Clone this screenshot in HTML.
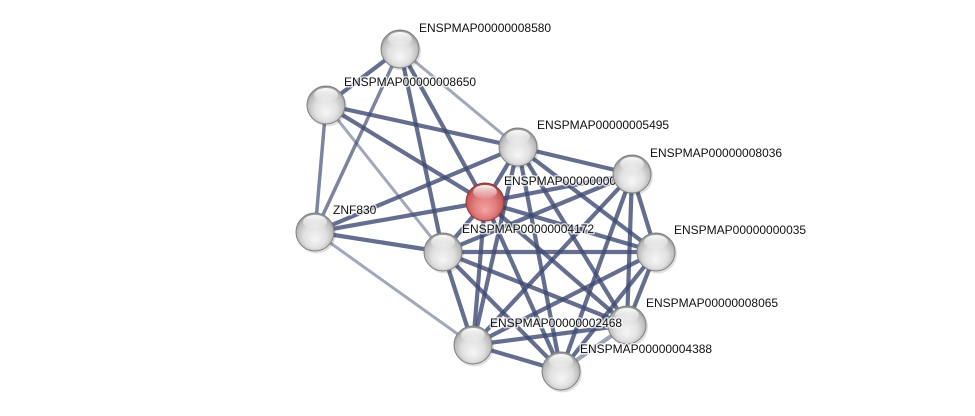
<!DOCTYPE html>
<html>
<head>
<meta charset="utf-8">
<style>
  html,body{margin:0;padding:0;background:#fff;}
  svg{display:block;}
  text{font-family:"Liberation Sans",Arial,sans-serif;font-size:12px;fill:#111;stroke:#fff;stroke-width:3px;stroke-opacity:0.7;paint-order:stroke;stroke-linejoin:round;}
</style>
</head>
<body>
<svg width="975" height="416" viewBox="0 0 975 416" xmlns="http://www.w3.org/2000/svg">
  <defs>
    <radialGradient id="gGray" cx="0.5" cy="0.55" r="0.55" fx="0.5" fy="0.72">
      <stop offset="0" stop-color="#f6f6f6"/>
      <stop offset="0.55" stop-color="#e0e0e0"/>
      <stop offset="0.85" stop-color="#bcbcbc"/>
      <stop offset="1" stop-color="#8e8e8e"/>
    </radialGradient>
    <radialGradient id="gRed" cx="0.5" cy="0.55" r="0.55" fx="0.5" fy="0.72">
      <stop offset="0" stop-color="#f5a4a4"/>
      <stop offset="0.55" stop-color="#e07c7c"/>
      <stop offset="0.85" stop-color="#ca5a5a"/>
      <stop offset="1" stop-color="#9a3c3c"/>
    </radialGradient>
    <linearGradient id="hl" x1="0" y1="0" x2="0" y2="1">
      <stop offset="0" stop-color="#fff" stop-opacity="0.95"/>
      <stop offset="1" stop-color="#fff" stop-opacity="0.05"/>
    </linearGradient>
    <g id="gnode">
      <circle cx="1.5" cy="2" r="19.5" fill="#000" opacity="0.12"/>
      <circle r="19" fill="url(#gGray)" stroke="#808080" stroke-width="1"/>
      <ellipse cx="0" cy="-10" rx="12" ry="7" fill="url(#hl)"/>
    </g>
    <g id="rnode">
      <circle cx="1.5" cy="2" r="19.5" fill="#000" opacity="0.12"/>
      <circle r="19" fill="url(#gRed)" stroke="#8a3a3a" stroke-width="1"/>
      <ellipse cx="0" cy="-10" rx="12" ry="7" fill="url(#hl)"/>
    </g>
  </defs>

  <!-- light edges -->
  <g stroke="#a2a8ba" stroke-width="3" stroke-linecap="round" fill="none">
    <line x1="400" y1="49" x2="518" y2="147"/>
    <line x1="326" y1="105" x2="443" y2="252"/>
    <line x1="315" y1="232" x2="473" y2="345"/>
  </g>

  <!-- dark edges -->
  <g stroke="#3e4a72" stroke-opacity="0.8" stroke-width="4.2" stroke-linecap="round" fill="none">
    <line x1="400" y1="49" x2="326" y2="105"/>
    <line x1="400" y1="49" x2="315" y2="232" stroke-width="3.5" stroke-opacity="0.68"/>
    <line x1="400" y1="49" x2="443" y2="252"/>
    <line x1="400" y1="49" x2="485" y2="202"/>
    <line x1="326" y1="105" x2="518" y2="147"/>
    <line x1="326" y1="105" x2="315" y2="232" stroke-width="3.5" stroke-opacity="0.68"/>
    <line x1="326" y1="105" x2="485" y2="202"/>
    <line x1="315" y1="232" x2="518" y2="147"/>
    <line x1="315" y1="232" x2="485" y2="202"/>
    <line x1="315" y1="232" x2="443" y2="252"/>
    <line x1="518" y1="147" x2="632" y2="174"/>
    <line x1="518" y1="147" x2="485" y2="202"/>
    <line x1="518" y1="147" x2="473" y2="345"/>
    <line x1="518" y1="147" x2="561" y2="371"/>
    <line x1="518" y1="147" x2="627" y2="325"/>
    <line x1="518" y1="147" x2="656" y2="252"/>
    <line x1="632" y1="174" x2="485" y2="202"/>
    <line x1="632" y1="174" x2="443" y2="252"/>
    <line x1="632" y1="174" x2="473" y2="345"/>
    <line x1="632" y1="174" x2="561" y2="371"/>
    <line x1="632" y1="174" x2="627" y2="325"/>
    <line x1="632" y1="174" x2="656" y2="252"/>
    <line x1="485" y1="202" x2="443" y2="252"/>
    <line x1="485" y1="202" x2="656" y2="252"/>
    <line x1="485" y1="202" x2="627" y2="325"/>
    <line x1="485" y1="202" x2="561" y2="371"/>
    <line x1="485" y1="202" x2="473" y2="345"/>
    <line x1="443" y1="252" x2="656" y2="252"/>
    <line x1="443" y1="252" x2="473" y2="345"/>
    <line x1="443" y1="252" x2="561" y2="371"/>
    <line x1="443" y1="252" x2="627" y2="325"/>
    <line x1="656" y1="252" x2="473" y2="345"/>
    <line x1="656" y1="252" x2="561" y2="371"/>
    <line x1="656" y1="252" x2="627" y2="325"/>
    <line x1="627" y1="325" x2="473" y2="345"/>
    <line x1="627" y1="325" x2="561" y2="371" stroke-opacity="0.5"/>
    <line x1="473" y1="345" x2="561" y2="371"/>
  </g>

  <!-- nodes and labels -->
  <use href="#gnode" x="400" y="49"/>
  <text x="419" y="32">ENSPMAP00000008580</text>

  <use href="#gnode" x="326" y="105"/>
  <text x="344" y="86">ENSPMAP00000008650</text>

  <use href="#gnode" x="518" y="147"/>
  <text x="537" y="129">ENSPMAP00000005495</text>

  <use href="#rnode" x="485" y="202"/>
  <text x="504" y="185">ENSPMAP00000000622</text>

  <use href="#gnode" x="632" y="174"/>
  <text x="650" y="157">ENSPMAP00000008036</text>

  <use href="#gnode" x="315" y="232"/>
  <text x="333" y="214">ZNF830</text>

  <use href="#gnode" x="443" y="252"/>
  <text x="462" y="233">ENSPMAP00000004172</text>

  <use href="#gnode" x="656" y="252"/>
  <text x="674" y="234">ENSPMAP00000000035</text>

  <use href="#gnode" x="627" y="325"/>
  <text x="646" y="307">ENSPMAP00000008065</text>

  <use href="#gnode" x="473" y="345"/>
  <text x="490" y="327">ENSPMAP00000002468</text>

  <use href="#gnode" x="561" y="371"/>
  <text x="580" y="353">ENSPMAP00000004388</text>
</svg>
</body>
</html>
